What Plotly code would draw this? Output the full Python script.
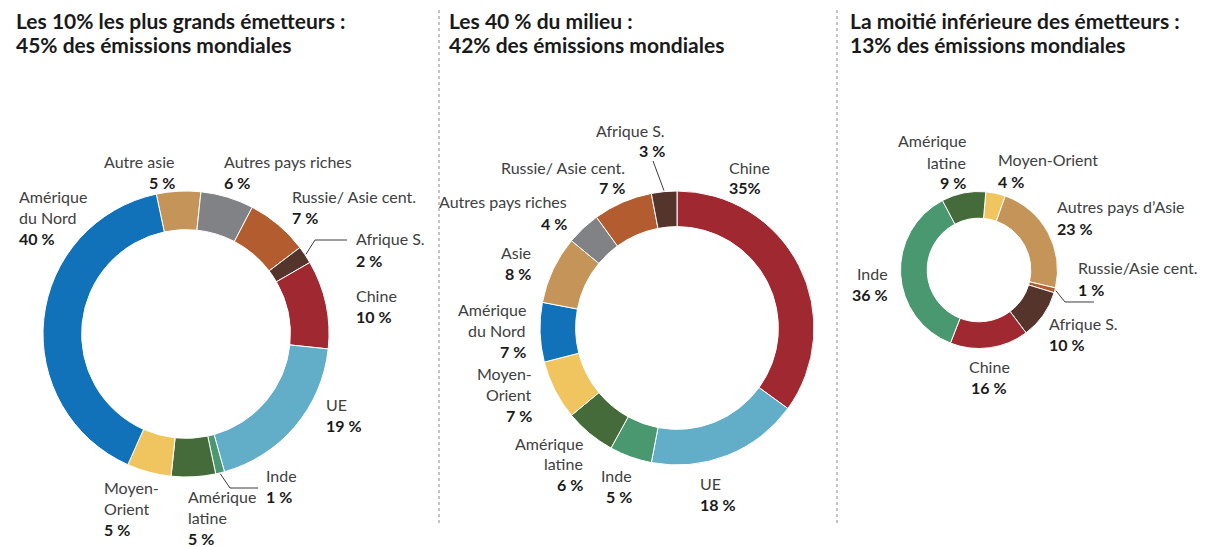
import math
import plotly.graph_objects as go

W, H = 1205, 547

# ---------------- data ----------------
titles = [
    "Les 10% les plus grands émetteurs :<br>45% des émissions mondiales",
    "Les 40 % du milieu :<br>42% des émissions mondiales",
    "La moitié inférieure des émetteurs :<br>13% des émissions mondiales",
]

cat1 = ["Autre asie", "Autres pays riches", "Russie/ Asie cent.", "Afrique S.", "Chine",
        "UE", "Inde", "Amérique latine", "Moyen-Orient", "Amérique du Nord"]
val1 = [5, 6, 7, 2, 10, 19, 1, 5, 5, 40]
lab1 = ["Autre asie", "Autres pays riches", "Russie/ Asie cent.", "Afrique S.", "Chine",
        "UE", "Inde", "Amérique<br>latine", "Moyen-<br>Orient", "Amérique<br>du Nord"]
pct1 = ["5 %", "6 %", "7 %", "2 %", "10 %", "19 %", "1 %", "5 %", "5 %", "40 %"]

cat2 = ["Chine", "UE", "Inde", "Amérique latine", "Moyen-Orient", "Amérique du Nord",
        "Asie", "Autres pays riches", "Russie/ Asie cent.", "Afrique S."]
val2 = [35, 18, 5, 6, 7, 7, 8, 4, 7, 3]
lab2 = ["Chine", "UE", "Inde", "Amérique<br>latine", "Moyen-<br>Orient", "Amérique<br>du Nord",
        "Asie", "Autres pays riches", "Russie/ Asie cent.", "Afrique S."]
pct2 = ["35%", "18 %", "5 %", "6 %", "7 %", "7 %", "8 %", "4 %", "7 %", "3 %"]

cat3 = ["Moyen-Orient", "Autres pays d’Asie", "Russie/Asie cent.", "Afrique S.", "Chine",
        "Inde", "Amérique latine"]
val3 = [4, 23, 1, 10, 16, 36, 9]
lab3 = ["Moyen-Orient", "Autres pays d’Asie", "Russie/Asie cent.", "Afrique S.", "Chine",
        "Inde", "Amérique<br>latine"]
pct3 = ["4 %", "23 %", "1 %", "10 %", "16 %", "36 %", "9 %"]

# ---------------- styles ----------------
C = {
    "nam": "#1172b9", "asie": "#c49458", "riches": "#818286", "russie": "#b35c30",
    "afr": "#54342b", "chine": "#a02831", "ue": "#62adc8", "inde": "#4a9870",
    "amlat": "#466b3b", "mo": "#f0c560",
}
col1 = [C["asie"], C["riches"], C["russie"], C["afr"], C["chine"], C["ue"], C["inde"],
        C["amlat"], C["mo"], C["nam"]]
col2 = [C["chine"], C["ue"], C["inde"], C["amlat"], C["mo"], C["nam"], C["asie"],
        C["riches"], C["russie"], C["afr"]]
col3 = [C["mo"], C["asie"], C["russie"], C["afr"], C["chine"], C["inde"], C["amlat"]]

FONT = "Lato"

# pie geometry (pixels): center x, center y, outer radius, hole, rotation
pies = [
    dict(cat=cat1, val=val1, lab=lab1, pct=pct1, col=col1, cx=186, cy=334, r=143, hole=0.73, rot=-12),
    dict(cat=cat2, val=val2, lab=lab2, pct=pct2, col=col2, cx=677, cy=328, r=137, hole=0.74, rot=0),
    dict(cat=cat3, val=val3, lab=lab3, pct=pct3, col=col3, cx=979, cy=270, r=78.5, hole=0.66, rot=5),
]

# label placement (pixel anchor x, y of first line, alignment) per slice
label_pos = [
    [(177, 161, "right"), (222, 161, "left"), (290, 196, "left"), (354, 239, "left"),
     (354, 295, "left"), (324, 404, "left"), (264, 475, "left"), (186, 496, "left"),
     (102, 487, "left"), (17, 196, "left")],
    [(727, 167, "left"), (698, 483, "left"), (634, 475, "right"), (585, 443, "right"),
     (534, 373, "right"), (528, 309, "right"), (533, 252, "right"), (569, 202, "right"),
     (627, 167, "right"), (667, 130, "right")],
    [(996, 160, "left"), (1055, 207, "left"), (1076, 268, "left"), (1047, 323, "left"),
     (989, 366, "center"), (890, 273, "right"), (968, 141, "right")],
]
# leader lines: (pie index, slice index, elbow px, end px)
leaders = [
    (0, 3, (315, 240), (347, 240)),
    (0, 6, (230, 488), (258, 488)),
    (1, 9, (653, 161), None),
    (2, 2, (1065, 302), (1094, 302)),
]

LINE = 21  # px between label lines


def px(x):
    return x / W


def py(y):
    return 1 - y / H


fig = go.Figure()
annotations = []
shapes = []

for p in pies:
    fig.add_trace(go.Pie(
        labels=p["cat"], values=p["val"], hole=p["hole"], sort=False,
        direction="clockwise", rotation=p["rot"], textinfo="none",
        hoverinfo="label+percent",
        marker=dict(colors=p["col"], line=dict(color="white", width=1)),
        domain=dict(x=[px(p["cx"] - p["r"]), px(p["cx"] + p["r"])],
                    y=[py(p["cy"] + p["r"]), py(p["cy"] - p["r"])]),
        showlegend=False,
    ))

# labels
for k, p in enumerate(pies):
    for i, (lab, pct) in enumerate(zip(p["lab"], p["pct"])):
        x, y, al = label_pos[k][i]
        lines = lab.split("<br>")
        for j, ln in enumerate(lines):
            annotations.append(dict(
                x=px(x), y=py(y + j * LINE), xref="paper", yref="paper",
                text=ln, showarrow=False, xanchor=al, yanchor="middle",
                font=dict(family=FONT, size=16, color="#404040")))
        annotations.append(dict(
            x=px(x), y=py(y + len(lines) * LINE), xref="paper", yref="paper",
            text="<b>" + pct + "</b>", showarrow=False, xanchor=al, yanchor="middle",
            font=dict(family=FONT, size=16, color="#1a1a1a")))

# leader lines (start computed from slice mid-angle on the outer ring)
for k, i, elbow, end in leaders:
    p = pies[k]
    tot = sum(p["val"])
    mid = p["rot"] + (sum(p["val"][:i]) + p["val"][i] / 2) / tot * 360
    a = math.radians(mid)
    sx = p["cx"] + (p["r"] + 1) * math.sin(a)
    sy = p["cy"] - (p["r"] + 1) * math.cos(a)
    pts = [(sx, sy), elbow] + ([end] if end else [])
    path = "M " + " L ".join(f"{px(x):.5f},{py(y):.5f}" for x, y in pts)
    shapes.append(dict(type="path", path=path, xref="paper", yref="paper",
                       line=dict(color="#3c3c3c", width=1)))

# titles
for x, t in zip([14, 447, 848], titles):
    l1, l2 = t.split("<br>")
    for j, ln in enumerate([l1, l2]):
        annotations.append(dict(
            x=px(x), y=py(20 + j * 25), xref="paper", yref="paper",
            text="<b>" + ln + "</b>", showarrow=False, xanchor="left", yanchor="middle",
            font=dict(family=FONT, size=21, color="#1a1a1a")))

# dotted separators
for x in [439, 837]:
    shapes.append(dict(type="line", x0=px(x), x1=px(x), y0=py(10), y1=py(524),
                       xref="paper", yref="paper",
                       line=dict(color="#8a8a8a", width=1, dash="dot")))

fig.update_layout(
    width=W, height=H, margin=dict(l=0, r=0, t=0, b=0),
    paper_bgcolor="white", plot_bgcolor="white",
    annotations=annotations, shapes=shapes,
    font=dict(family=FONT),
)

fig.write_html("out.html", config={"displayModeBar": False},
               post_script="document.body.style.margin='0';")
